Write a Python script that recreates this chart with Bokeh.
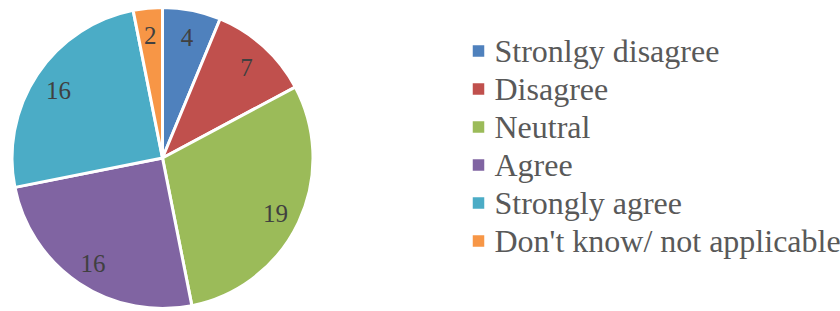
import numpy as np
from bokeh.plotting import figure
from bokeh.models import Range1d, ColumnDataSource
from bokeh.core.properties import value
from bokeh.embed import file_html
from bokeh.resources import INLINE

categories = ["Stronlgy disagree", "Disagree", "Neutral", "Agree", "Strongly agree", "Don't know/ not applicable"]
counts = [4, 7, 19, 16, 16, 2]
colors = ["#4F81BD", "#C0504D", "#9BBB59", "#8064A2", "#4BACC6", "#F79646"]

W, H = 840, 311
p = figure(width=W, height=H, output_backend="svg", toolbar_location=None,
           x_range=Range1d(0, W), y_range=Range1d(0, H), min_border=0)
p.axis.visible = False
p.grid.visible = False
p.outline_line_color = None
p.background_fill_color = "white"

cx, cy, R = 162, 153.5, 150.5
vals = np.array(counts, dtype=float)
frac = vals / vals.sum()
ends = np.cumsum(frac) * 2 * np.pi
starts = ends - frac * 2 * np.pi
src = ColumnDataSource(dict(
    start=np.pi / 2 - ends, end=np.pi / 2 - starts, color=colors,
    cat=categories, v=counts))
p.wedge(x=cx, y=cy, radius=R, start_angle="start", end_angle="end",
        fill_color="color", line_color="white", line_width=3, source=src)

mid = np.pi / 2 - (starts + ends) / 2
lr = 125
lab = ColumnDataSource(dict(x=cx + lr * np.cos(mid), y=cy + lr * np.sin(mid) - 2,
                            t=[str(c) for c in counts]))
p.text(x="x", y="y", text="t", source=lab, text_align="center", text_baseline="middle",
       text_font=value("Liberation Serif"), text_font_size="25px", text_color="#404040")

# legend
n = len(categories)
row0 = H - 50.5
step = 38
ys = np.array([row0 - i * step for i in range(n)])
leg = ColumnDataSource(dict(x=[478] * n, y=ys, color=colors, tx=[494] * n, ty=ys, t=categories))
p.scatter(x="x", y="y", marker="square", size=11.5, fill_color="color", line_color=None, source=leg)
p.text(x="tx", y="ty", text="t", source=leg, text_align="left", text_baseline="middle",
       text_font=value("Liberation Serif"), text_font_size="32px", text_color="#595959")

open("out.html", "w").write(file_html(p, INLINE))
